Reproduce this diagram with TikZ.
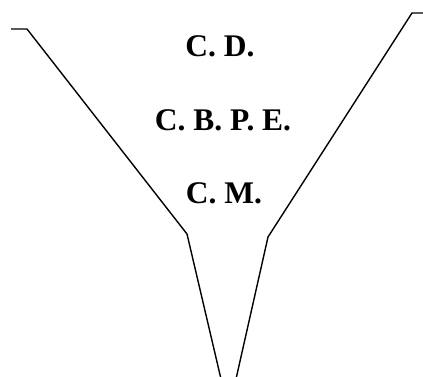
\documentclass[tikz,border=0pt]{standalone}
\usepackage{fontspec}
\setmainfont{Liberation Serif}
\usetikzlibrary{positioning}

\begin{document}
\begin{tikzpicture}[
  x=1pt, y=-1pt,
  tag/.style={
    anchor=base,
    inner sep=0pt,
    font=\fontsize{31.5}{36}\selectfont\bfseries
  },
  wall/.style={
    draw=black,
    line width=1.4pt,
    line join=miter
  }
]
\useasboundingbox (0,0) rectangle (423,377);

% Funnel outline
\coordinate (ltop) at (11,29);
\coordinate (lrim) at (27,29);
\coordinate (lneck) at (187,234);
\coordinate (lend) at (221,379);
\coordinate (rtop) at (425,13);
\coordinate (rrim) at (412,13);
\coordinate (rneck) at (268,237);
\coordinate (rend) at (236,379);

\draw[wall] (ltop) -- (lrim) -- (lneck) -- (lend);
\draw[wall] (rtop) -- (rrim) -- (rneck) -- (rend);

% Labels
\node[tag] (cd) at (220,57) {C. D.};
\node[tag] (cbpe) at (223,131) {C. B. P. E.};
\node[tag] (cm) at (224,204) {C. M.};

\end{tikzpicture}
\end{document}
